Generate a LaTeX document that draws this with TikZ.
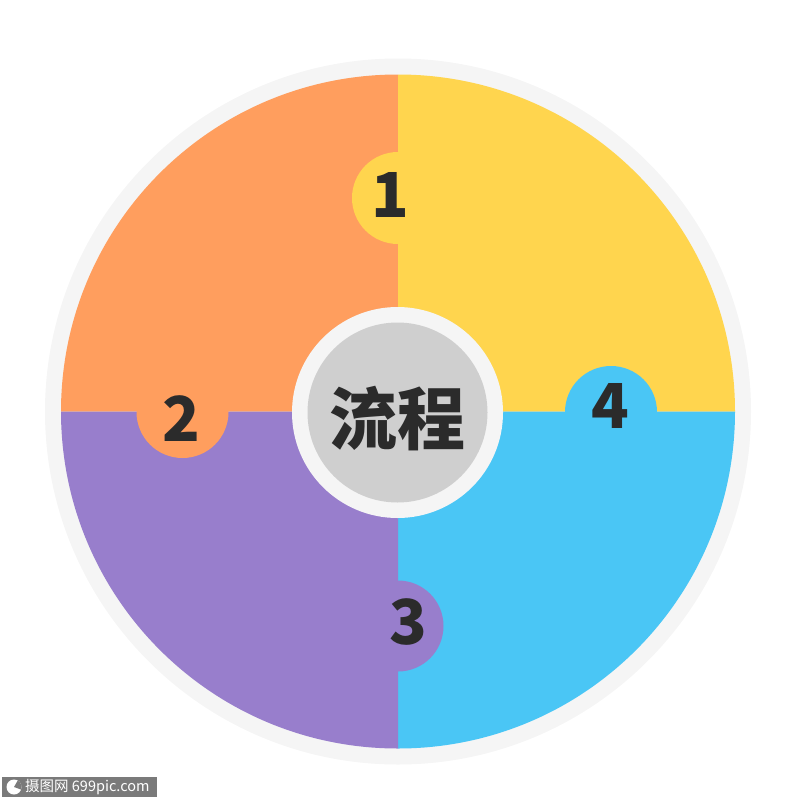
\documentclass[tikz,border=0pt]{standalone}
\usepackage{fontspec}
\newfontfamily\cjk{Noto Sans CJK SC}
\definecolor{cOrange}{HTML}{FF9E5E}
\definecolor{cYellow}{HTML}{FFD54E}
\definecolor{cBlue}{HTML}{4AC6F5}
\definecolor{cPurple}{HTML}{987ECC}
\definecolor{cRing}{HTML}{F5F5F5}
\definecolor{cCore}{HTML}{CFCFCF}
\definecolor{cText}{HTML}{2B2B2B}
\definecolor{cMark}{HTML}{7A7A7A}
\tikzset{
  num/.style={font=\cjk\bfseries\fontsize{62}{62}\selectfont, text=cText, inner sep=0pt},
  title/.style={font=\cjk\bfseries\fontsize{68}{68}\selectfont, text=cText, inner sep=0pt},
}
\begin{document}
\begin{tikzpicture}[x=1pt,y=-1pt]
\useasboundingbox (0,0) rectangle (800,800);
\coordinate (c) at (398,411.5);
% outer ring
\fill[cRing] (c) circle (353);
% quadrants
\fill[cOrange] (c) -- ++(180:337) arc[start angle=180,end angle=270,radius=337] -- cycle;
\fill[cYellow] (c) -- ++(270:337) arc[start angle=270,end angle=360,radius=337] -- cycle;
\fill[cBlue] (c) -- ++(0:337) arc[start angle=0,end angle=90,radius=337] -- cycle;
\fill[cPurple] (c) -- ++(90:337) arc[start angle=90,end angle=180,radius=337] -- cycle;
% bumps
\fill[cYellow] (398,198) circle (46);
\fill[cOrange] (182.5,412) circle (46);
\fill[cPurple] (398,626) circle (45.5);
\fill[cBlue] (611,412) circle (46);
% center
\fill[cRing] (397.5,412.5) circle (105.5);
\fill[cCore] (397.5,412.5) circle (90);
\node[title] (t) at (397.5,418.5) {流程};
% numbers
\node[num] (n1) at (390.5,195) {1};
\node[num] (n2) at (181,419) {2};
\node[num] (n3) at (408,621.5) {3};
\node[num] (n4) at (610.5,406) {4};
% watermark
\fill[cMark] (2,777) rectangle (157,797);
\fill[white] (14,787) circle (7.5);
\fill[cMark] (14,787) -- ++(-60:7.5) arc[start angle=-60,end angle=20,radius=7.5] -- cycle;
\node[font=\cjk\fontsize{14.5}{14.5}\selectfont, text=white, inner sep=0pt, anchor=west] (wm) at (25,787.5) {摄图网 699pic.com};
\end{tikzpicture}
\end{document}
